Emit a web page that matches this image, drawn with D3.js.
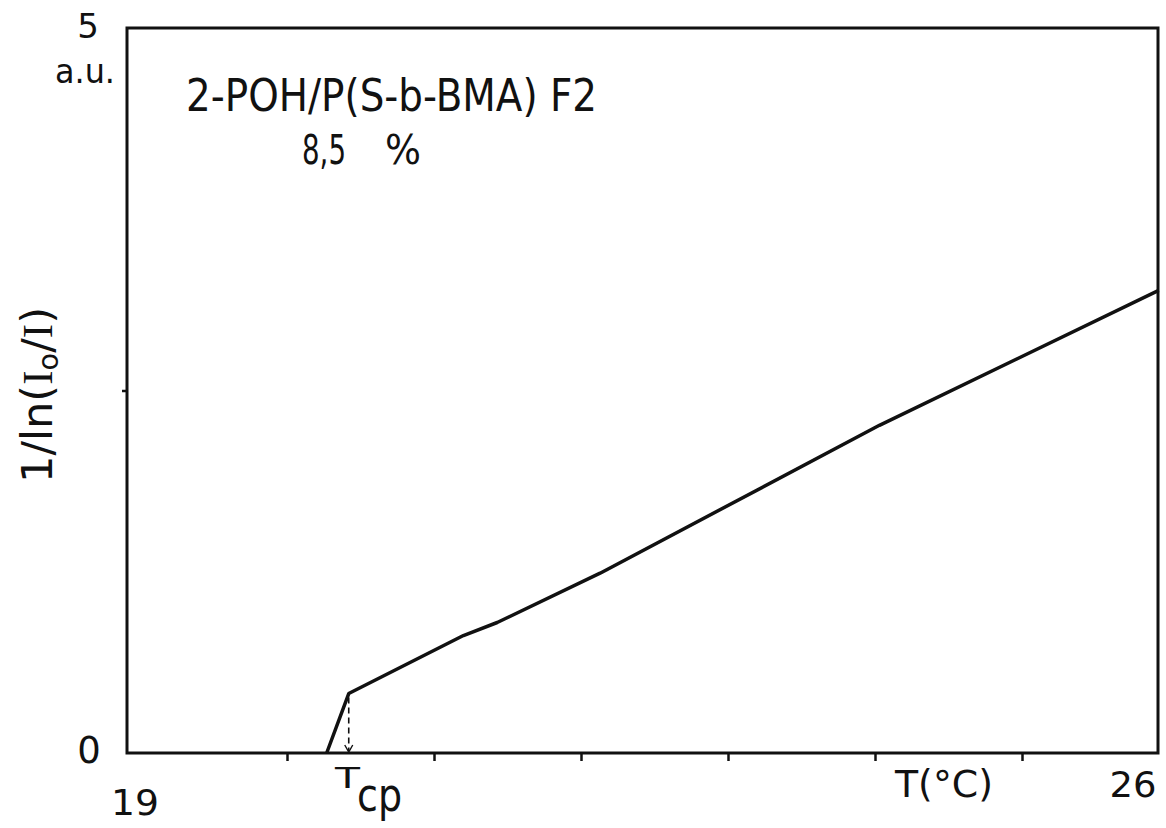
<!DOCTYPE html>
<html>
<head>
<meta charset="utf-8">
<script src="https://cdn.jsdelivr.net/npm/d3@7/dist/d3.min.js"></script>
<style>
  html, body { margin: 0; padding: 0; background: #fff; }
  svg { display: block; }
  text { font-family: "DejaVu Sans", sans-serif; fill: #111; }
</style>
</head>
<body>
<svg id="chart" width="1166" height="828"></svg>
<script>
// Turbidity curve: temperature (°C) vs 1/ln(I0/I)
const temperature = [20.27, 20.42, 21.20, 21.43, 22.13, 24.03, 25.93];
const invLnRatio  = [0, 0.41, 0.81, 0.90, 1.24, 2.26, 3.19];

// Cloud point temperature (dashed drop line)
const cloudPoint = 20.42;

// Axis ticks and labels
const xTicks = [20, 21, 22, 23, 24, 25];
const yTicks = [2.5];
const xEndLabels = ["19", "26"];
const yEndLabels = ["0", "5"];
const yUnit = "a.u.";
const xTitle = "T(°C)";
const sampleName = "2-POH/P(S-b-BMA)  F2";
const concentration = "8,5";

const svg = d3.select("#chart");

// Plot frame
const frame = { left: 127, right: 1158, top: 28, bottom: 753 };

const x = d3.scaleLinear().domain([20, 25]).range([287, 1022]);
const y = d3.scaleLinear().domain([0, 5]).range([frame.bottom, frame.top]);

// Frame box
svg.append("rect")
  .attr("x", frame.left).attr("y", frame.top)
  .attr("width", frame.right - frame.left)
  .attr("height", frame.bottom - frame.top)
  .attr("fill", "none").attr("stroke", "#111").attr("stroke-width", 3);

// Bottom ticks
const xAxis = d3.axisBottom(x).tickValues(xTicks).tickSize(8).tickFormat("");
const gx = svg.append("g").attr("transform", `translate(0,${frame.bottom})`).call(xAxis);
gx.select(".domain").remove();
gx.selectAll(".tick line").attr("stroke", "#111").attr("stroke-width", 2.5);

// Left tick
const yAxis = d3.axisLeft(y).tickValues(yTicks).tickSize(5).tickFormat("");
const gy = svg.append("g").attr("transform", `translate(${frame.left},0)`).call(yAxis);
gy.select(".domain").remove();
gy.selectAll(".tick line").attr("stroke", "#111").attr("stroke-width", 2.5);

// Curve
const line = d3.line().x(d => x(d[0])).y(d => y(d[1]));
const pts = temperature.map((t, i) => [t, invLnRatio[i]]);
svg.append("path")
  .datum(pts)
  .attr("d", line)
  .attr("fill", "none")
  .attr("stroke", "#111")
  .attr("stroke-width", 3.5)
  .attr("stroke-linejoin", "round");

// Dashed drop line at the cloud point
const kneeIdx = temperature.indexOf(cloudPoint);
const cx = x(cloudPoint);
svg.append("line")
  .attr("x1", cx).attr("x2", cx)
  .attr("y1", y(invLnRatio[kneeIdx]) + 4)
  .attr("y2", y(0) - 2)
  .attr("stroke", "#111").attr("stroke-width", 1.6)
  .attr("stroke-dasharray", "6,4");
svg.append("path")
  .attr("d", `M${cx - 4},${y(0) - 8} L${cx},${y(0) - 1} L${cx + 4},${y(0) - 8}`)
  .attr("fill", "none").attr("stroke", "#111").attr("stroke-width", 1.4);

// Axis end labels
svg.append("text").text(xEndLabels[0])
  .attr("x", 135).attr("y", 815).attr("text-anchor", "middle")
  .attr("font-size", 35).attr("textLength", 48).attr("lengthAdjust", "spacingAndGlyphs");
svg.append("text").text(xEndLabels[1])
  .attr("x", 1133).attr("y", 797).attr("text-anchor", "middle")
  .attr("font-size", 35).attr("textLength", 47).attr("lengthAdjust", "spacingAndGlyphs");
svg.append("text").text(yEndLabels[0])
  .attr("x", 89).attr("y", 763).attr("text-anchor", "middle")
  .attr("font-size", 37);
svg.append("text").text(yEndLabels[1])
  .attr("x", 88).attr("y", 38).attr("text-anchor", "middle")
  .attr("font-size", 34);
svg.append("text").text(yUnit)
  .attr("x", 55).attr("y", 83)
  .attr("font-size", 33).attr("textLength", 60).attr("lengthAdjust", "spacingAndGlyphs");

// X title
svg.append("text").text(xTitle)
  .attr("x", 895).attr("y", 797)
  .attr("font-size", 37).attr("textLength", 98).attr("lengthAdjust", "spacingAndGlyphs");

// Cloud point label T_cp
svg.append("text").text("T")
  .attr("x", 335).attr("y", 788)
  .attr("font-size", 28).attr("textLength", 25).attr("lengthAdjust", "spacingAndGlyphs");
svg.append("text").text("cp")
  .attr("x", 357).attr("y", 811)
  .attr("font-size", 46).attr("textLength", 45).attr("lengthAdjust", "spacingAndGlyphs");

// Sample annotation
svg.append("text").text(sampleName)
  .attr("x", 186).attr("y", 111)
  .attr("font-size", 45).attr("textLength", 411).attr("lengthAdjust", "spacingAndGlyphs");
svg.append("text").text(concentration)
  .attr("x", 302).attr("y", 164)
  .attr("font-size", 41).attr("textLength", 44).attr("lengthAdjust", "spacingAndGlyphs");
svg.append("text").text("%")
  .attr("x", 385).attr("y", 164)
  .attr("font-size", 41).attr("textLength", 36).attr("lengthAdjust", "spacingAndGlyphs");

// Y title (rotated)
const yt = svg.append("text")
  .attr("transform", "translate(52,483) rotate(-90)")
  .attr("font-size", 42)
  .attr("textLength", 176).attr("lengthAdjust", "spacingAndGlyphs");
yt.append("tspan").text("1/ln(");
yt.append("tspan").text("I").attr("font-family", "Liberation Serif, serif");
yt.append("tspan").text("o").attr("font-size", 28).attr("dy", 6);
yt.append("tspan").text("/").attr("dy", -6);
yt.append("tspan").text("I").attr("font-family", "Liberation Serif, serif");
yt.append("tspan").text(")");
</script>
</body>
</html>
